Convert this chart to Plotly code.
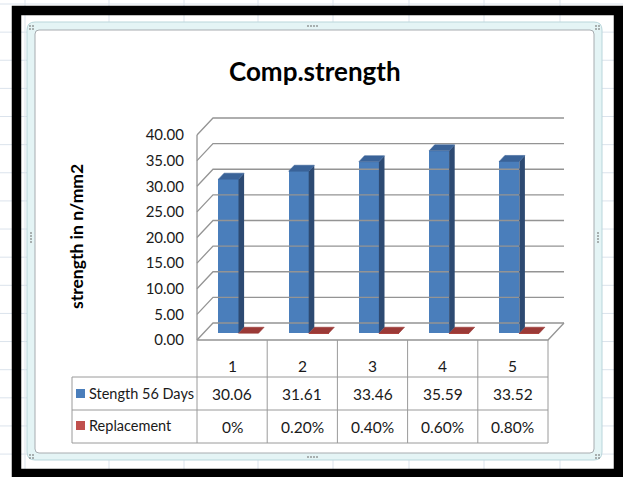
import plotly.graph_objects as go

# ---------------- data ----------------
categories = [1, 2, 3, 4, 5]
strength_56_days = [30.06, 31.61, 33.46, 35.59, 33.52]
replacement = [0.0, 0.002, 0.004, 0.006, 0.008]
series_names = ["Stength 56 Days", "Replacement"]
y_ticks = [0, 5, 10, 15, 20, 25, 30, 35, 40]
chart_title = "Comp.strength"
y_title = "strength in n/mm2"

# ---------------- page / style ----------------
W, H = 623, 477
FONT = "Lato"
TEXT = "#1a1a1a"
GRID = "#949494"
TABLE_LINE = "#9a9a9a"
BLUE_FRONT, BLUE_SIDE, BLUE_TOP = "#4a7ebb", "#2d4a72", "#3a6398"
RED_FRONT, RED_SIDE, RED_TOP = "#c0504d", "#7a2b29", "#9b3a37"

# ---------------- oblique 3-D projection ----------------
CAT_PX = 70.2          # width of one category column
VAL_PX = 5.125         # pixels per unit of strength
FLOOR_FRONT_PX = 340   # pixel row of value 0 on the front edge of the floor
CAT_LEFT_PX = 197      # pixel column of the left edge of the first category
DOMAIN_LEFT_PX = 190   # left edge of the plotting area
DEPTH_DX = 16 / CAT_PX  # floor depth (front -> back wall) in axis units
DEPTH_DY = 17 / VAL_PX
BAR_W = 0.285          # column width in category units
F0, F1 = 0.40, 0.75    # front / back depth of the columns


def proj(c, v, f):
    """Project (category, value, depth fraction) onto the 2-D axes."""
    return c + f * DEPTH_DX, v + f * DEPTH_DY


c_left = categories[0] - 0.5
c_right = categories[-1] + 0.5
x_range = [c_left - (CAT_LEFT_PX - DOMAIN_LEFT_PX) / CAT_PX,
           c_left + (W - CAT_LEFT_PX) / CAT_PX]
y_range = [-(H - FLOOR_FRONT_PX) / VAL_PX, FLOOR_FRONT_PX / VAL_PX]


def X(p):
    return p / W


def Y(p):
    return 1 - p / H


fig = go.Figure()

# ---- walls: side-wall diagonals + back-wall gridlines ----
wx, wy = [], []
for t in y_ticks:
    for c, f in [(c_left, 0), (c_left, 1), (c_right, 1)]:
        x, y = proj(c, t, f)
        wx.append(x)
        wy.append(y)
    wx.append(None)
    wy.append(None)
# front-left edge of the side wall
for v in (0, y_ticks[-1]):
    x, y = proj(c_left, v, 0)
    wx.append(x)
    wy.append(y)
wx.append(None)
wy.append(None)
# floor front + right edges
for c, f in [(c_left, 0), (c_right, 0), (c_right, 1)]:
    x, y = proj(c, 0, f)
    wx.append(x)
    wy.append(y)
fig.add_trace(go.Scatter(x=wx, y=wy, mode="lines",
                         line=dict(color=GRID, width=1.3),
                         hoverinfo="skip", showlegend=False))


def add_columns(values, off0, off1, front, side, top, name):
    # front faces as real bars
    fig.add_trace(go.Bar(
        x=[c + (off0 + off1) / 2 + F0 * DEPTH_DX for c in categories],
        y=values, base=F0 * DEPTH_DY, width=BAR_W,
        marker=dict(color=front, line=dict(width=0)),
        name=name, showlegend=False, hoverinfo="skip"))
    # side faces
    sx, sy = [], []
    for c, v in zip(categories, values):
        for vv, f in [(0, F0), (0, F1), (v, F1), (v, F0), (0, F0)]:
            x, y = proj(c + off1, vv, f)
            sx.append(x)
            sy.append(y)
        sx.append(None)
        sy.append(None)
    fig.add_trace(go.Scatter(x=sx, y=sy, mode="lines", fill="toself",
                             fillcolor=side, line=dict(width=0, color=side),
                             hoverinfo="skip", showlegend=False))
    # top faces
    tx, ty = [], []
    for c, v in zip(categories, values):
        for o, f in [(off0, F0), (off1, F0), (off1, F1), (off0, F1), (off0, F0)]:
            x, y = proj(c + o, v, f)
            tx.append(x)
            ty.append(y)
        tx.append(None)
        ty.append(None)
    fig.add_trace(go.Scatter(x=tx, y=ty, mode="lines", fill="toself",
                             fillcolor=top, line=dict(width=0.6, color=top),
                             hoverinfo="skip", showlegend=False))


add_columns(replacement, 0, BAR_W, RED_FRONT, RED_SIDE, RED_TOP, series_names[1])
add_columns(strength_56_days, -BAR_W, 0, BLUE_FRONT, BLUE_SIDE, BLUE_TOP, series_names[0])

# ---------------- decorations: sheet grid, chart border, frame ----------------
shapes = []
sheet_cols = [25, 109, 184, 258, 333, 409, 484, 560]
sheet_rows = [4 + 28.13 * k for k in range(17)]
for sx_ in sheet_cols:
    shapes.append(dict(type="line", xref="paper", yref="paper", layer="below",
                       x0=X(sx_), x1=X(sx_), y0=0, y1=1,
                       line=dict(color="#dbe3ec", width=1)))
for sy_ in sheet_rows:
    shapes.append(dict(type="line", xref="paper", yref="paper", layer="below",
                       x0=0, x1=1, y0=Y(sy_), y1=Y(sy_),
                       line=dict(color="#dbe3ec", width=1)))


def rounded(x0, y0, x1, y1, r):
    a, b, c, d = X(x0), X(x1), Y(y0), Y(y1)
    rx, ry = r / W, r / H
    return (f"M{a + rx},{c} L{b - rx},{c} Q{b},{c} {b},{c - ry} "
            f"L{b},{d + ry} Q{b},{d} {b - rx},{d} L{a + rx},{d} "
            f"Q{a},{d} {a},{d + ry} L{a},{c - ry} Q{a},{c} {a + rx},{c} Z")


shapes.append(dict(type="path", xref="paper", yref="paper", layer="below",
                   path=rounded(27, 22, 602, 460, 8),
                   fillcolor="#e4f4f5", line=dict(color="#b9d6db", width=1)))
shapes.append(dict(type="path", xref="paper", yref="paper", layer="below",
                   path=rounded(35, 30, 594, 453, 4),
                   fillcolor="white", line=dict(color="#a7acb0", width=1)))
# black outer frame
shapes.append(dict(type="rect", xref="paper", yref="paper", layer="above",
                   x0=X(16.5), x1=X(618.5), y0=Y(473.5), y1=Y(10.5),
                   line=dict(color="black", width=9.5)))

# resize handles
dot = "#707070"
handle_dots = []
for hx, hy in [(30, 26), (596, 26), (30, 455), (596, 455)]:
    for ddx in (0, 3):
        for ddy in (0, 3):
            handle_dots.append((hx + ddx, hy + ddy))
for k in range(4):
    handle_dots.append((308 + 3 * k, 26))
    handle_dots.append((308 + 3 * k, 457))
    handle_dots.append((31, 233 + 3 * k))
    handle_dots.append((598, 233 + 3 * k))
for hx, hy in handle_dots:
    shapes.append(dict(type="rect", xref="paper", yref="paper", layer="above",
                       x0=X(hx - 0.7), x1=X(hx + 0.7), y0=Y(hy + 0.7), y1=Y(hy - 0.7),
                       fillcolor=dot, line=dict(width=0)))

# ---------------- data table ----------------
ROW_TOP, ROW1, ROW2, ROW3 = FLOOR_FRONT_PX, 377, 410, 443
LEGEND_LEFT = 72
for ry in (ROW1, ROW2, ROW3):
    shapes.append(dict(type="line", xref="paper", yref="paper", layer="above",
                       x0=X(LEGEND_LEFT), x1=X(CAT_LEFT_PX + CAT_PX * len(categories)),
                       y0=Y(ry), y1=Y(ry), line=dict(color=TABLE_LINE, width=1)))
for b in [c - 0.5 for c in categories] + [c_right]:
    shapes.append(dict(type="line", xref="x", yref="paper", layer="above",
                       x0=b, x1=b, y0=Y(ROW_TOP), y1=Y(ROW3),
                       line=dict(color=TABLE_LINE, width=1)))
shapes.append(dict(type="line", xref="paper", yref="paper", layer="above",
                   x0=X(LEGEND_LEFT), x1=X(LEGEND_LEFT), y0=Y(ROW1), y1=Y(ROW3),
                   line=dict(color=TABLE_LINE, width=1)))

annotations = []


def label(x, y, text, xref="paper", xanchor="center", size=15, color=TEXT,
          angle=0):
    annotations.append(dict(x=x, y=y, xref=xref, yref="paper", text=text,
                            xanchor=xanchor, yanchor="middle", showarrow=False,
                            textangle=angle,
                            font=dict(family=FONT, size=size, color=color)))


row_mid = [366, (ROW1 + ROW2) / 2, (ROW2 + ROW3) / 2]
for c in categories:
    label(c, Y(row_mid[0]), str(c), xref="x", size=15.5)
for c, v in zip(categories, strength_56_days):
    label(c, Y(row_mid[1]), f"{v:.2f}", xref="x", size=15.5)
for c, v in zip(categories, replacement):
    label(c, Y(row_mid[2]), "0%" if v == 0 else f"{v:.2%}", xref="x", size=15.5)
for name, colr, ym in [(series_names[0], BLUE_FRONT, row_mid[1]),
                       (series_names[1], RED_FRONT, row_mid[2] - 1)]:
    shapes.append(dict(type="rect", xref="paper", yref="paper", layer="above",
                       x0=X(76), x1=X(85), y0=Y(ym + 4.5), y1=Y(ym - 4.5),
                       fillcolor=colr, line=dict(width=0)))
    label(X(87), Y(ym), name, xanchor="left", size=14.5)

# titles
label(X(315), Y(71), f"<b>{chart_title}</b>", size=26, color="black")
label(X(76), Y(237), f"<b>{y_title}</b>", size=17.5, color="black", angle=-90)

fig.update_layout(
    width=W, height=H, margin=dict(l=0, r=0, t=0, b=0),
    paper_bgcolor="white", plot_bgcolor="rgba(0,0,0,0)",
    barmode="overlay", bargap=0, showlegend=False,
    xaxis=dict(domain=[X(DOMAIN_LEFT_PX), 1], range=x_range, visible=False,
               fixedrange=True),
    yaxis=dict(domain=[0, 1], range=y_range, showgrid=False, zeroline=False,
               showline=False, ticks="", tickvals=y_ticks,
               ticktext=[f"{t:.2f}" for t in y_ticks], ticklabelstandoff=5,
               tickfont=dict(family=FONT, size=15, color=TEXT), fixedrange=True),
    shapes=shapes, annotations=annotations,
)

fig.write_html("out.html")
